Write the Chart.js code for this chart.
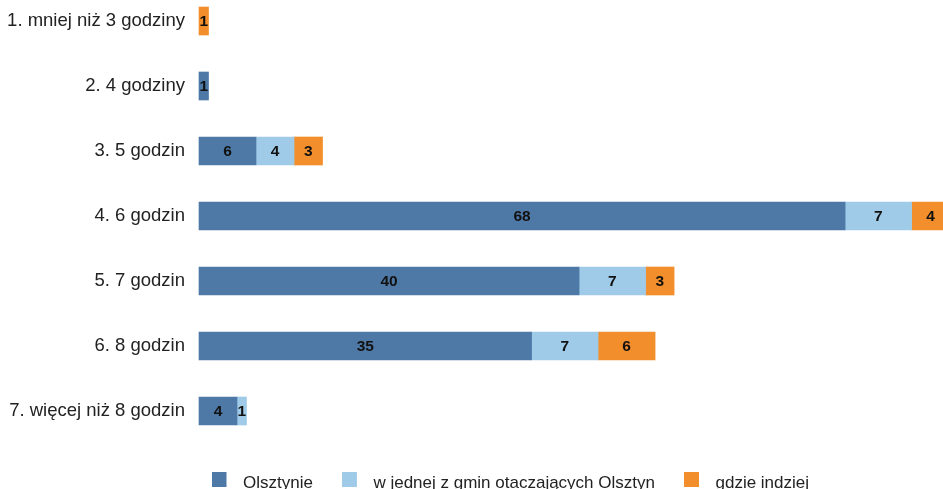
<!DOCTYPE html>
<html><head><meta charset="utf-8">
<script src="https://cdn.jsdelivr.net/npm/chart.js@4/dist/chart.umd.min.js"></script>
<style>html,body{margin:0;padding:0;background:#fff;overflow:hidden}#wrap{position:relative;width:943px;height:489px}</style>
</head><body><div id="wrap"><canvas id="c" width="943" height="489"></canvas></div>
<script>
const categories = ['1. mniej niż 3 godziny','2. 4 godziny','3. 5 godzin','4. 6 godzin','5. 7 godzin','6. 8 godzin','7. więcej niż 8 godzin'];
const seriesNames = ['Olsztynie','w jednej z gmin otaczających Olsztyn','gdzie indziej'];
const olsztynie = [null,1,6,68,40,35,4];
const gminy = [null,null,4,7,7,7,1];
const gdzieIndziej = [1,null,3,4,3,6,null];
const colors = ['#4E79A7','#A0CBE8','#F28E2B'];

const FONT = '"Liberation Sans", Arial, sans-serif';

function boxImg(color){
  const c = document.createElement('canvas');
  c.width = 23; c.height = 22;
  const g = c.getContext('2d');
  g.fillStyle = color; g.fillRect(0,0,15,15);
  return c;
}
const legendImgs = colors.map(boxImg);

const valueLabels = {
  id:'valueLabels',
  afterDatasetsDraw(chart){
    const ctx = chart.ctx;
    ctx.save();
    ctx.font = 'bold 15.5px ' + FONT;
    ctx.fillStyle = '#111';
    ctx.textAlign = 'center';
    ctx.textBaseline = 'middle';
    chart.data.datasets.forEach((ds,i)=>{
      const meta = chart.getDatasetMeta(i);
      meta.data.forEach((el,j)=>{
        const v = ds.data[j];
        if (v == null) return;
        const p = el.getProps(['x','y','base'], true);
        ctx.fillText(String(v), (p.x + p.base)/2, p.y + 0.5);
      });
    });
    ctx.restore();
  }
};

const legendShift = {
  id:'legendShift',
  afterUpdate(chart){
    const lg = chart.legend;
    if (!lg || !lg.legendHitBoxes || !lg.legendHitBoxes.length) return;
    const hb = lg.legendHitBoxes[0];
    const dx = 211.5 - hb.left;
    const pad = lg.options.labels.padding;
    const curMid = lg.top + pad + 17/2;
    const dy = 483 - curMid;
    lg.left += dx; lg.right += dx; lg.top += dy; lg.bottom += dy;
  }
};

new Chart(document.getElementById('c'), {
  type:'bar',
  data:{
    labels: categories,
    datasets:[
      {label: seriesNames[0], data: olsztynie, backgroundColor: colors[0]},
      {label: seriesNames[1], data: gminy, backgroundColor: colors[1]},
      {label: seriesNames[2], data: gdzieIndziej, backgroundColor: colors[2]}
    ].map(d=>Object.assign(d,{barThickness:28, borderWidth:0, clip:false}))
  },
  options:{
    indexAxis:'y',
    responsive:false,
    animation:false,
    layout:{padding:{top:21,bottom:22,left:0,right:0}},
    scales:{
      x:{type:'linear', stacked:true, min:0, max:78.3, display:false},
      y:{stacked:true, offset:false,
         grid:{display:false, drawTicks:false}, border:{display:false},
         ticks:{padding:14, color:'#222', font:{family:FONT, size:18.5}},
         afterFit(s){ s.width = 199; s.paddingTop = 0; s.paddingBottom = 0; }
      }
    },
    plugins:{
      tooltip:{enabled:false},
      legend:{
        position:'bottom',
        labels:{
          usePointStyle:true,
          pointStyleWidth:23,
          padding:29,
          color:'#222',
          font:{family:FONT, size:17},
          generateLabels(chart){
            const items = Chart.defaults.plugins.legend.labels.generateLabels(chart);
            items.forEach((it,i)=>{ it.pointStyle = legendImgs[i]; });
            return items;
          }
        }
      }
    }
  },
  plugins:[valueLabels, legendShift]
});
</script>
</body></html>
